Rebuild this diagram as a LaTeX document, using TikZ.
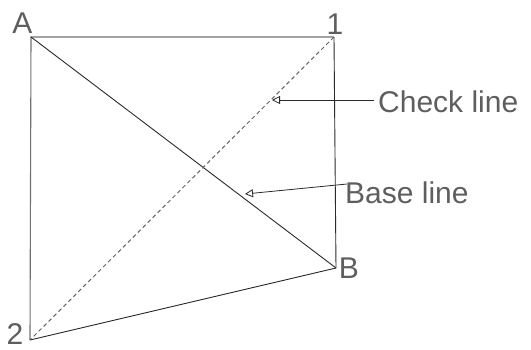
\documentclass[tikz,border=0pt]{standalone}
\usepackage{fontspec}
\setmainfont{Liberation Sans}
\usetikzlibrary{arrows.meta}
\definecolor{txtgray}{HTML}{5E5E5E}
\definecolor{framegray}{HTML}{707070}
\definecolor{linedark}{HTML}{2A2A2A}
\begin{document}
\begin{tikzpicture}[x=1pt,y=-1pt,
  lbl/.style={inner sep=0pt, text=txtgray, font=\fontsize{30}{30}\selectfont},
  frame/.style={draw=framegray, line width=1.1pt},
  dark/.style={draw=linedark, line width=0.9pt},
  dashline/.style={draw=framegray!90!black, line width=1pt, dash pattern=on 4pt off 3pt},
  pointer/.style={draw=linedark, line width=0.8pt, -{Triangle[open,length=8pt,width=8pt]}}]
\useasboundingbox (0,0) rectangle (531,349);
\coordinate (cA) at (31,37);
\coordinate (c1) at (334,37);
\coordinate (cB) at (336,268);
\coordinate (c2) at (30,340);
\coordinate (chktip) at (272,100);
\coordinate (chktail) at (374,100);
\coordinate (bastip) at (245,194);
\coordinate (bastail) at (347,184);
\draw[frame] (c2) -- (cA) -- (c1);
\draw[dark] (cA) -- (cB);
\draw[dark] (c1) -- (cB) -- (c2);
\draw[dashline] (c1) -- (c2);
\draw[pointer] (chktail) -- (chktip);
\draw[pointer] (bastail) -- (bastip);
\node[lbl, anchor=base] (lA) at (22.5,33) {A};
\node[lbl, anchor=base] (l1) at (335,34) {1};
\node[lbl, anchor=base] (lB) at (349,278) {B};
\node[lbl, anchor=base] (l2) at (15,344.5) {2};
\node[lbl, anchor=base west] (chk) at (378,112) {Check line};
\node[lbl, anchor=base west] (bas) at (345,203) {Base line};
\end{tikzpicture}
\end{document}
